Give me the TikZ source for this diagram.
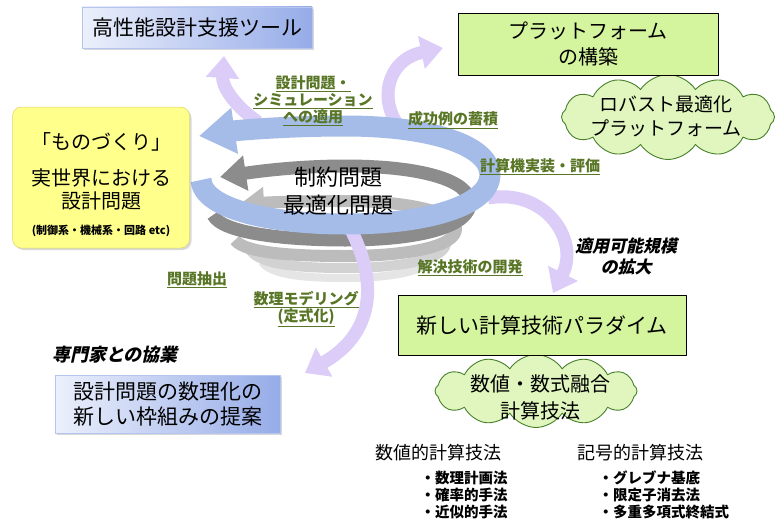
\documentclass[tikz,border=0pt]{standalone}
\usepackage{fontspec}
\setmainfont{Noto Sans CJK JP}
\newfontfamily\nghieng{Noto Sans CJK JP}[FakeSlant=0.22]
\usetikzlibrary{arrows.meta,shapes.symbols,shadows}
\definecolor{labg}{RGB}{88,118,38}
\definecolor{boxg}{RGB}{212,244,158}
\definecolor{cloudg}{RGB}{224,246,190}
\definecolor{cloudD}{RGB}{72,128,42}
\definecolor{yel}{RGB}{255,255,140}
\definecolor{yelD}{RGB}{222,214,110}
\definecolor{blueL}{RGB}{236,240,252}
\definecolor{blueR}{RGB}{150,172,232}
\definecolor{band}{RGB}{166,188,232}
\definecolor{greyD}{RGB}{140,140,140}
\definecolor{greyL}{RGB}{188,188,188}
\definecolor{lilac}{RGB}{220,204,248}
\begin{document}
\begin{tikzpicture}[x=1pt, y=-1pt, line join=round]
    \tikzset{hop/.style={draw, line width=0.6pt, fill=boxg, inner sep=0, align=center},
             lam/.style={left color=blueL, right color=blueR, draw=blueR!70, line width=0.3pt, inner sep=0, align=center,
                         drop shadow={opacity=0.3, shadow xshift=2pt, shadow yshift=-2pt}},
             may/.style={cloud, cloud puffs=12, cloud puff arc=115, draw=cloudD, line width=0.9pt, fill=cloudg, inner sep=0},
             nhan/.style={font=\fontsize{15}{17}\selectfont\bfseries, text=labg, align=center},
             vong/.style={line width=#1, line cap=butt},
             tim/.style={draw=lilac, line width=13, line cap=butt, -{Triangle[length=22pt,width=32pt]}}}
    \useasboundingbox (0,0) rectangle (775,519);
    \fill[white] (0,0) rectangle (775,519);
    % spiral: lower rings, then the grey turns
    \draw[vong=8, gray!20] (262,262) .. controls (272,276) and (310,278) .. (345,278) .. controls (392,278) and (428,271) .. (430,258);
    \draw[vong=10, gray!35] (250,250) .. controls (260,265) and (300,268) .. (345,268) .. controls (402,268) and (446,259) .. (446,243);
    \draw[vong=12, greyL, -{Triangle[length=24pt,width=30pt]}] (235,240) .. controls (245,254) and (300,256) .. (345,256)
        .. controls (410,256) and (456,246) .. (456,229) .. controls (456,210) and (400,201) .. (345,201)
        .. controls (305,201) and (275,202) .. (240,204);
    \draw[vong=13, greyD, -{Triangle[length=26pt,width=34pt]}] (213,215) .. controls (222,234) and (290,240) .. (345,240)
        .. controls (422,240) and (470,226) .. (470,203) .. controls (470,180) and (420,166) .. (345,166)
        .. controls (300,166) and (260,171) .. (220,177);
    % arrows out of the spiral
    \draw[tim] (258,122) .. controls (232,104) and (222,85) .. (224,56);
    \draw[tim] (402,130) .. controls (378,104) and (385,60) .. (443,48);
    \draw[tim] (488,198) .. controls (545,188) and (580,240) .. (553,293);
    \draw[tim] (350,228) .. controls (380,285) and (372,335) .. (305,373);
    % outer blue turn
    \draw[vong=21, band, -{Triangle[length=36pt,width=44pt]}] (201,180) .. controls (203,210) and (275,224) .. (345,224)
        .. controls (435,224) and (490,203) .. (490,175) .. controls (490,145) and (430,126) .. (345,126)
        .. controls (290,126) and (240,130) .. (199,136);
    \node[align=center, font=\fontsize{22}{28}\selectfont] (core) at (338,191) {制約問題\\最適化問題};

    \node[lam, minimum width=230pt, minimum height=41pt, font=\fontsize{21}{24}\selectfont] (tool) at (197,27.5) {高性能設計支援ツール};
    \node[may, minimum width=213pt, minimum height=85pt] (robust) at (668,117) {};
    \node[font=\fontsize{19}{24}\selectfont, align=center] (robusttext) at (666,116) {ロバスト最適化\\プラットフォーム};
    \node[hop, minimum width=260pt, minimum height=62pt, font=\fontsize{20}{26}\selectfont] (platform) at (588,44) {プラットフォーム\\の構築};

    \node[fill=yel, draw=yelD, line width=0.5pt, rounded corners=9pt, minimum width=177pt, minimum height=141pt,
          drop shadow={opacity=0.3, shadow xshift=2pt, shadow yshift=-2pt}] (mono) at (101,177.5) {};
    \node[align=center, font=\fontsize{20}{23}\selectfont] (monotext) at (101,185)
        {「ものづくり」\\[13pt]実世界における\\設計問題\\[3pt]{\fontsize{11}{12}\selectfont\bfseries (制御系・機械系・回路 etc)}};

    \node[may, minimum width=202pt, minimum height=73pt] (fusion) at (536,391) {};
    \node[align=center, font=\fontsize{20}{27}\selectfont] (fusiontext) at (540,397) {数値・数式融合\\計算技法};
    \node[hop, minimum width=288pt, minimum height=60pt, font=\fontsize{21}{24}\selectfont] (paradigm) at (542,325) {新しい計算技術パラダイム};

    \node[font=\fontsize{18}{20}\selectfont] (numeric) at (438,453) {数値的計算技法};
    \node[font=\fontsize{18}{20}\selectfont] (symbolic) at (640,453) {記号的計算技法};
    \node[anchor=west, align=left, font=\fontsize{14.5}{17}\selectfont\bfseries] (numlist) at (417,495) {・数理計画法\\・確率的手法\\・近似的手法};
    \node[anchor=west, align=left, font=\fontsize{14.5}{17}\selectfont\bfseries] (symlist) at (595,495) {・グレブナ基底\\・限定子消去法\\・多重多項式終結式};

    \node[lam, minimum width=225pt, minimum height=58pt, font=\fontsize{21}{25}\selectfont] (proposal) at (167.5,404) {設計問題の数理化の\\新しい枠組みの提案};
    \node[font=\nghieng\bfseries\fontsize{18}{20}\selectfont] (expert) at (115,355) {専門家との協業};
    \node[align=center, font=\nghieng\bfseries\fontsize{17}{21}\selectfont] (scale) at (626,256) {適用可能規模\\の拡大};

    % underlined step labels round the spiral
    \foreach \diem/\ten/\nut in {(313,101)/{\underline{設計問題・}\\\underline{シミュレーション}\\\underline{への適用}}/apply,
                                 (453,120)/{\underline{成功例の蓄積}}/success,
                                 (540,167)/{\underline{計算機実装・評価}}/implement,
                                 (470,268)/{\underline{解決技術の開発}}/develop,
                                 (197,280)/{\underline{問題抽出}}/extract,
                                 (306,309)/{\underline{数理モデリング}\\\underline{(定式化)}}/model}
        \node[nhan] (\nut) at \diem {\ten};
\end{tikzpicture}
\end{document}
